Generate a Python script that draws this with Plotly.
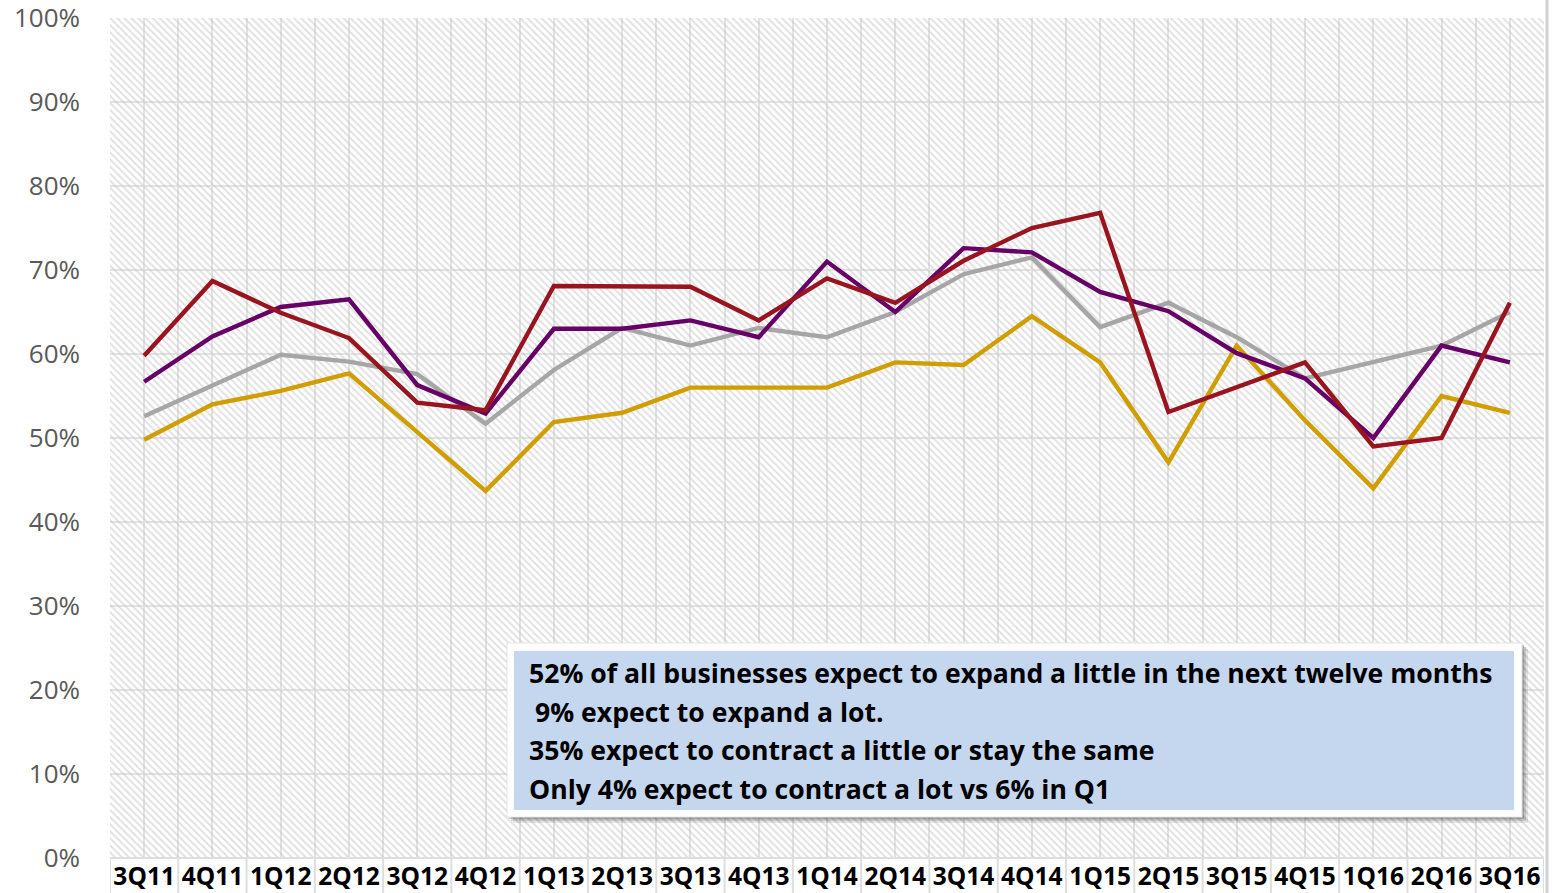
import plotly.graph_objects as go

# Quarterly survey: share of businesses expecting to expand
quarters = ["3Q11", "4Q11", "1Q12", "2Q12", "3Q12", "4Q12", "1Q13", "2Q13", "3Q13",
            "4Q13", "1Q14", "2Q14", "3Q14", "4Q14", "1Q15", "2Q15", "3Q15", "4Q15",
            "1Q16", "2Q16", "3Q16"]

series_gold = [49.8, 54.0, 55.6, 57.7, 50.7, 43.7, 51.9, 53.0, 56.0, 56.0, 56.0,
               59.0, 58.7, 64.5, 59.0, 47.1, 61.0, 52.1, 44.0, 55.0, 53.0]
series_gray = [52.6, 56.3, 59.9, 59.1, 57.6, 51.7, 58.1, 63.1, 61.0, 63.1, 62.0,
               65.0, 69.5, 71.5, 63.2, 66.1, 62.0, 57.1, 59.0, 61.0, 65.0]
series_purple = [56.7, 62.1, 65.6, 66.5, 56.3, 52.9, 63.0, 63.0, 64.0, 62.0, 71.0,
                 65.0, 72.6, 72.1, 67.4, 65.1, 60.1, 57.1, 50.0, 61.0, 59.0]
series_red = [59.8, 68.7, 64.9, 61.9, 54.2, 53.3, 68.1, 68.0, 68.0, 64.0, 69.0,
              66.1, 71.1, 75.0, 76.8, 53.1, 56.0, 59.0, 49.0, 50.0, 66.1]

y_ticks = [0, 10, 20, 30, 40, 50, 60, 70, 80, 90, 100]

note_lines = [
    "52% of all businesses expect to expand a little in the next twelve months",
    " 9% expect to expand a lot.",
    "35% expect to contract a little or stay the same",
    "Only 4% expect to contract a lot vs 6% in Q1",
]

W, H = 1555, 893
L, R, T, B = 110, 1544, 18, 858


def px(x):
    return (x - L) / (R - L)


def py(y):
    return (B - y) / (B - T)


xs = list(range(len(quarters)))
n = len(quarters)

fig = go.Figure()

# hatched plot background
fig.add_trace(go.Scatter(
    x=[-0.5, n - 0.5, n - 0.5, -0.5, -0.5], y=[0, 0, 100, 100, 0],
    mode="lines", line=dict(width=0), fill="toself",
    fillcolor="rgba(0,0,0,0)",
    fillpattern=dict(shape="\\", fgcolor="#c4c4c4", bgcolor="rgba(0,0,0,0)",
                     size=5, solidity=0.4),
    hoverinfo="skip", showlegend=False,
))

line_specs = [
    (series_gold, "#D09E00"),
    (series_gray, "#A6A6A6"),
    (series_purple, "#660066"),
    (series_red, "#981520"),
]
for vals, color in line_specs:
    fig.add_trace(go.Scatter(
        x=xs, y=vals, mode="lines",
        line=dict(color=color, width=4.4),
        showlegend=False,
    ))

shapes = []
# separators in the category label strip
for i in range(n + 1):
    shapes.append(dict(type="line", xref="x", yref="paper",
                       x0=i - 0.5, x1=i - 0.5, y0=0, y1=-(H - B) / (B - T),
                       line=dict(color="#dedede", width=2)))
shapes.append(dict(type="line", xref="paper", yref="paper",
                   x0=0, x1=1, y0=0, y1=0, line=dict(color="#dedede", width=2)))
# right-hand frame edge
shapes.append(dict(type="line", xref="paper", yref="paper",
                   x0=px(1547), x1=px(1547), y0=py(0), y1=py(H),
                   line=dict(color="#d0d0d0", width=3)))

# note box: soft shadow, white frame, blue panel
for off, op in [(6, 0.10), (4, 0.14), (2, 0.18)]:
    shapes.append(dict(type="rect", xref="paper", yref="paper", layer="above",
                       x0=px(507 + off), x1=px(1522 + off),
                       y0=py(817 + off), y1=py(643 + off),
                       fillcolor=f"rgba(0,0,0,{op})", line=dict(width=0)))
shapes.append(dict(type="rect", xref="paper", yref="paper", layer="above",
                   x0=px(507), x1=px(1522), y0=py(817), y1=py(643),
                   fillcolor="#ffffff", line=dict(color="#e4e4e4", width=1)))
shapes.append(dict(type="rect", xref="paper", yref="paper", layer="above",
                   x0=px(514), x1=px(1514), y0=py(810), y1=py(651),
                   fillcolor="#C5D7EE", line=dict(width=0)))

annotations = []
line_y = [673, 712, 750, 789]
for text, yy in zip(note_lines, line_y):
    xx = 527
    if text.startswith(" "):
        xx = 533
        text = text.strip()
    annotations.append(dict(
        text=text, xref="paper", yref="paper", x=px(xx), y=py(yy),
        xanchor="left", yanchor="middle", showarrow=False,
        font=dict(family="Open Sans", size=26.6, color="#000000", weight="bold"),
    ))

fig.update_layout(
    width=W, height=H,
    margin=dict(l=L, r=W - R, t=T, b=H - B, pad=0, autoexpand=False),
    paper_bgcolor="#ffffff", plot_bgcolor="#ffffff",
    shapes=shapes, annotations=annotations,
    showlegend=False,
)
fig.update_xaxes(
    range=[-0.5, n - 0.5], tickvals=xs, ticktext=quarters,
    showgrid=True, gridcolor="#e3e3e3", gridwidth=2,
    minor=dict(tickvals=[i + 0.5 for i in range(-1, n)], showgrid=True,
               gridcolor="#e3e3e3", gridwidth=2),
    ticks="", showline=False, zeroline=False, automargin=False,
    tickfont=dict(family="Open Sans", size=24.5, color="#000000", weight="bold"),
    ticklabelstandoff=1, ticklabeloverflow="allow",
)
fig.update_yaxes(
    range=[0, 100], tickvals=y_ticks, ticktext=[f"{v}%" for v in y_ticks],
    showgrid=True, gridcolor="#e3e3e3", gridwidth=2,
    ticks="", showline=False, zeroline=False, automargin=False,
    tickfont=dict(family="Open Sans", size=26, color="#595959"),
    ticklabelstandoff=29, ticklabeloverflow="allow",
)

fig.write_html("out.html")
